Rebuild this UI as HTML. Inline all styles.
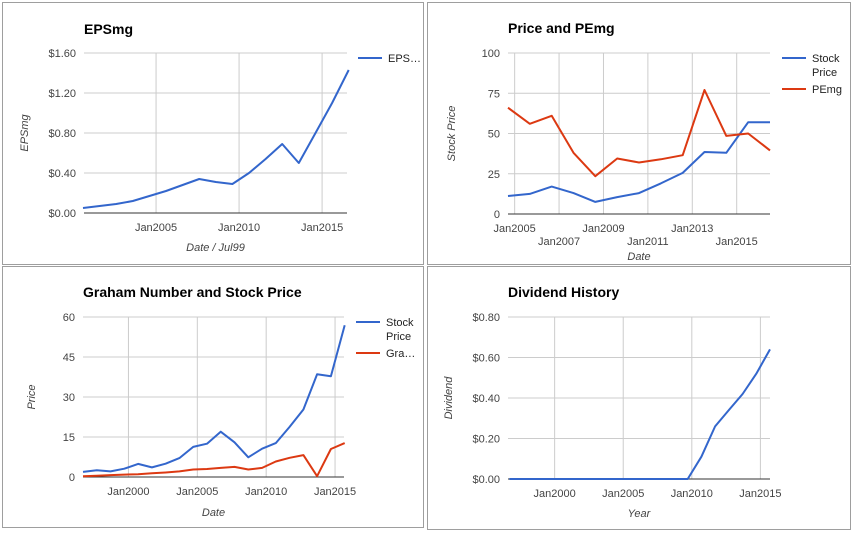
<!DOCTYPE html>
<html><head><meta charset="utf-8">
<style>
html,body{margin:0;padding:0;background:#fff;}
svg{display:block;font-family:"Liberation Sans",Arial,sans-serif;}
</style></head>
<body>
<svg id="s" width="855" height="534" viewBox="0 0 855 534" xmlns="http://www.w3.org/2000/svg">
<rect x="0" y="0" width="855" height="534" fill="#fff"/>
<rect x="2.5" y="2.5" width="421" height="262" fill="none" stroke="#9e9e9e"/>
<rect x="427.5" y="2.5" width="423" height="262" fill="none" stroke="#9e9e9e"/>
<rect x="2.5" y="266.5" width="421" height="261" fill="none" stroke="#9e9e9e"/>
<rect x="427.5" y="266.5" width="423" height="263" fill="none" stroke="#9e9e9e"/>
<g id="g"></g>
</svg>
<script>
// Chart 1: EPSmg
const epsYears = [2000.6,2001.6,2002.6,2003.6,2004.6,2005.6,2006.6,2007.6,2008.6,2009.6,2010.6,2011.6,2012.6,2013.6,2014.6,2015.6,2016.6];
const epsValues = [0.05,0.07,0.09,0.12,0.17,0.22,0.28,0.34,0.31,0.29,0.40,0.54,0.69,0.50,0.80,1.10,1.43];
const epsTicks = [0,0.4,0.8,1.2,1.6];
const epsTickLabels = ["$0.00","$0.40","$0.80","$1.20","$1.60"];
const epsXTicks = [2005,2010,2015];
// Chart 2: Price and PEmg
const pYears = [2004.7,2005.68,2006.67,2007.65,2008.63,2009.62,2010.6,2011.58,2012.57,2013.55,2014.53,2015.52,2016.5];
const pPrice = [11.2,12.5,17,13,7.5,10.5,13,19,25.5,38.5,38,57,57];
const pPE = [66,56,61,38,23.5,34.5,32,34,36.5,77,48.5,50,39.5];
const pTicks = [0,25,50,75,100];
const pXTicks = [2005,2007,2009,2011,2013,2015];
// Chart 3: Graham Number and Stock Price
const gYears = [1996.7,1997.7,1998.7,1999.7,2000.7,2001.7,2002.7,2003.7,2004.7,2005.7,2006.7,2007.7,2008.7,2009.7,2010.7,2011.7,2012.7,2013.7,2014.7,2015.7];
const gPrice = [1.9,2.5,2.1,3.1,4.9,3.6,5,7.1,11.3,12.5,17,13,7.4,10.6,12.7,18.8,25.3,38.5,37.8,56.9];
const gGraham = [0.3,0.5,0.7,0.9,1.0,1.4,1.7,2.1,2.8,3.0,3.4,3.8,2.8,3.4,5.8,7.2,8.2,0.3,10.5,12.7];
const gTicks = [0,15,30,45,60];
const gXTicks = [2000,2005,2010,2015];
// Chart 4: Dividend History
const dYears = [1996.7,1997.7,1998.7,1999.7,2000.7,2001.7,2002.7,2003.7,2004.7,2005.7,2006.7,2007.7,2008.7,2009.7,2010.7,2011.7,2012.7,2013.7,2014.7,2015.7];
const dValues = [0,0,0,0,0,0,0,0,0,0,0,0,0,0,0.11,0.26,0.34,0.42,0.52,0.64];
const dTicks = [0,0.2,0.4,0.6,0.8];
const dTickLabels = ["$0.00","$0.20","$0.40","$0.60","$0.80"];
const dXTicks = [2000,2005,2010,2015];

const NS="http://www.w3.org/2000/svg";
const root=document.getElementById('g');
function mk(tag,attrs,parent,text){const e=document.createElementNS(NS,tag);for(const k in attrs)e.setAttribute(k,attrs[k]);if(text!==undefined)e.textContent=text;(parent||root).appendChild(e);return e;}

function chart(c){
  const g=mk('g',{});
  
  
  const sx=v=>c.x0+(v-c.d0)/(c.d1-c.d0)*(c.x1-c.x0);
  const sy=v=>c.y0-(v-c.v0)/(c.v1-c.v0)*(c.y0-c.y1);
  const t=mk('text',{x:c.x0,y:c.ty,'font-size':14,'font-weight':'bold',fill:'#000'},g,c.title);
  
  
  c.yt.forEach((v,i)=>{
    const l=mk('line',{x1:c.x0,x2:c.x1,y1:sy(v),y2:sy(v),stroke:i==0?'#333':'#ccc','stroke-width':1},g);
    
    
    const tl=mk('text',{x:c.x0-8,y:sy(v)+4,'font-size':11,fill:'#444','text-anchor':'end'},g,c.yl?c.yl[i]:String(v));
    
    
  });
  c.xt.forEach((v,i)=>{
    const l=mk('line',{x1:sx(v),x2:sx(v),y1:c.y1,y2:c.y0,stroke:'#ccc'},g);
    
    
    const dy=c.stagger?(i%2?31:18):18;
    const tl=mk('text',{x:sx(v),y:c.y0+dy,'font-size':11,fill:'#444','text-anchor':'middle'},g,'Jan'+v);
    
    
  });
  // redraw baseline on top
  mk('line',{x1:c.x0,x2:c.x1,y1:sy(c.v0),y2:sy(c.v0),stroke:'#333'},g);
  const xa=mk('text',{x:(c.x0+c.x1)/2,y:c.xay,'font-size':11,'font-style':'italic',fill:'#444','text-anchor':'middle'},g,c.xa);
  
  
  const ya=mk('text',{x:0,y:0,'font-size':11,'font-style':'italic',fill:'#444','text-anchor':'middle',transform:`translate(${c.yax},${(c.y0+c.y1)/2}) rotate(-90)`},g,c.ya);
  
  
  c.series.forEach((s,si)=>{
    const d=s.vals.map((v,i)=>(i?'L':'M')+sx(c.dates[i]).toFixed(1)+','+sy(v).toFixed(1)).join(' ');
    const p=mk('path',{d:d,fill:'none',stroke:s.color,'stroke-width':2,'stroke-linejoin':'round'},g);
    
    
    const ly=s.ly;
    const lg=mk('g',{},g);
    
    
    mk('line',{x1:c.lx,x2:c.lx+24,y1:ly,y2:ly,stroke:s.color,'stroke-width':2},lg);
    s.label.forEach((ln,k)=>mk('text',{x:c.lx+30,y:ly+4+k*14,'font-size':11,fill:'#222'},lg,ln));
  });
}

chart({name:'eps-chart',title:'EPSmg',ty:34,x0:84,x1:347,y0:213,y1:53,d0:2000.66,d1:2016.5,v0:0,v1:1.6,
  yt:epsTicks,yl:epsTickLabels,xt:epsXTicks,dates:epsYears,xa:'Date / Jul99',xay:251,ya:'EPSmg',yax:28,lx:358,
  series:[{key:'eps',vals:epsValues,color:'#3366cc',label:['EPS…'],ly:58}]});
chart({name:'price-pe-chart',title:'Price and PEmg',ty:33,x0:508,x1:770,y0:214,y1:53,d0:2004.7,d1:2016.5,v0:0,v1:100,
  yt:pTicks,xt:pXTicks,stagger:true,dates:pYears,xa:'Date',xay:260,ya:'Stock Price',yax:455,lx:782,
  series:[{key:'stock-price',vals:pPrice,color:'#3366cc',label:['Stock','Price'],ly:58},
          {key:'pemg',vals:pPE,color:'#dc3912',label:['PEmg'],ly:89}]});
chart({name:'graham-chart',title:'Graham Number and Stock Price',ty:297,x0:83,x1:344,y0:477,y1:317,d0:1996.7,d1:2015.65,v0:0,v1:60,
  yt:gTicks,xt:gXTicks,dates:gYears,xa:'Date',xay:516,ya:'Price',yax:35,lx:356,
  series:[{key:'stock-price',vals:gPrice,color:'#3366cc',label:['Stock','Price'],ly:322},
          {key:'graham-number',vals:gGraham,color:'#dc3912',label:['Gra…'],ly:353}]});
chart({name:'dividend-chart',title:'Dividend History',ty:297,x0:508,x1:770,y0:479,y1:317,d0:1996.6,d1:2015.7,v0:0,v1:0.8,
  yt:dTicks,yl:dTickLabels,xt:dXTicks,dates:dYears,xa:'Year',xay:517,ya:'Dividend',yax:452,lx:9999,
  series:[{key:'dividend',vals:dValues,color:'#3366cc',label:[],ly:0}]});
</script>
</body></html>
